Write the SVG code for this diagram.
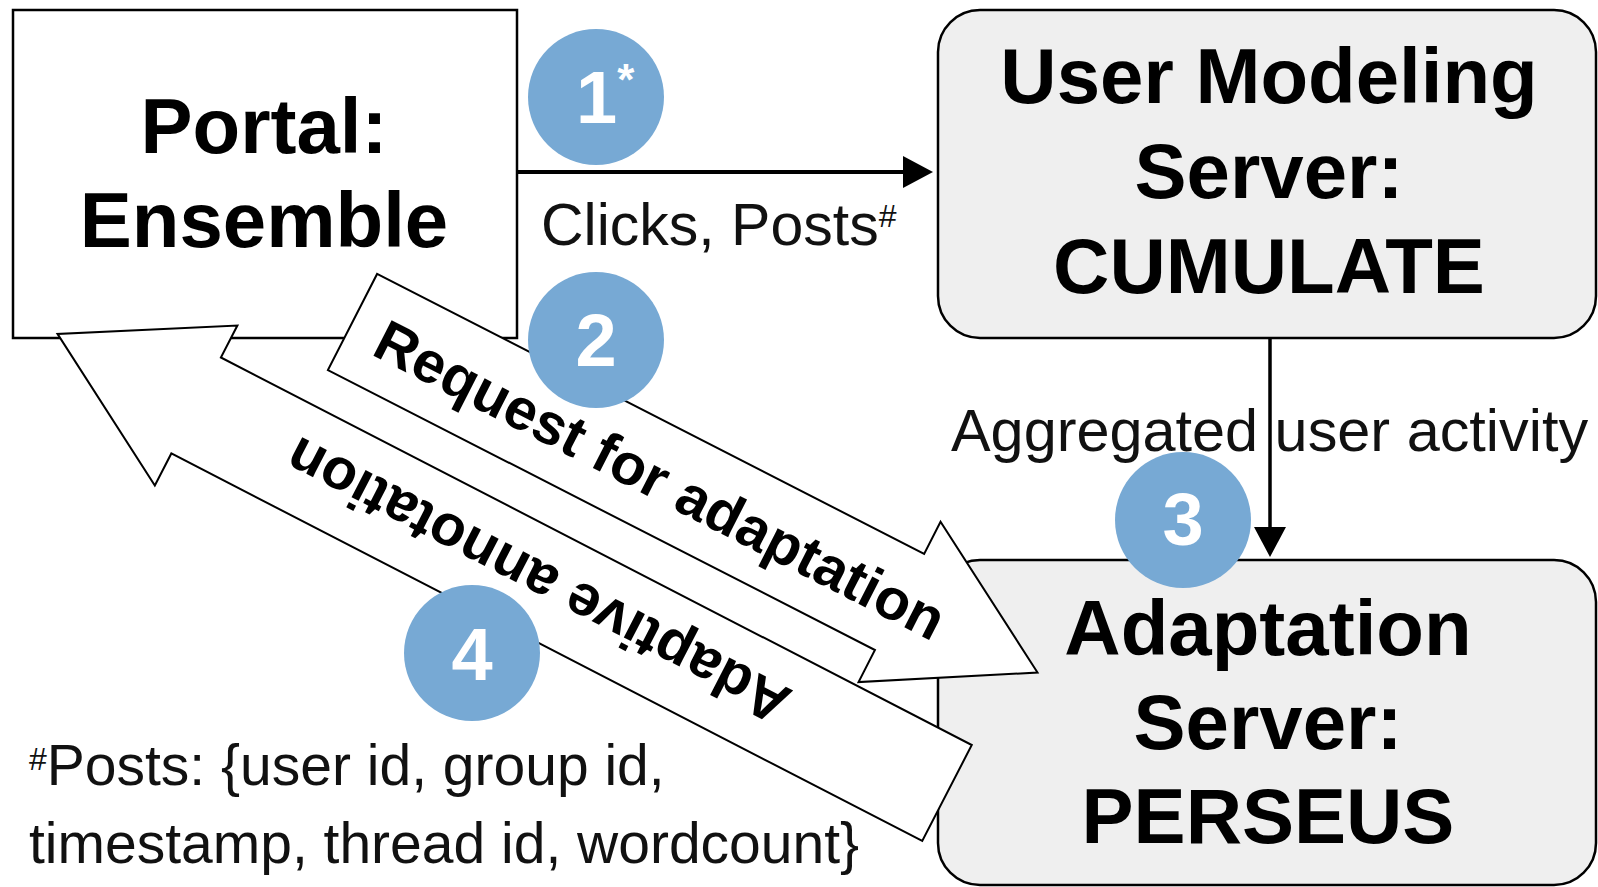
<svg xmlns="http://www.w3.org/2000/svg" width="1598" height="887" viewBox="0 0 1598 887">
<style>
text { font-family: "Liberation Sans", Arial, Helvetica, sans-serif; }
.node { stroke: #000; stroke-width: 2.5; }
.plain { fill: #fff; }
.gray { fill: #efefef; }
.title { font-size: 78px; font-weight: bold; text-anchor: middle; fill: #000; }
.lbl { font-size: 57px; fill: #111; }
.block { fill: #fff; stroke: #000; stroke-width: 2; stroke-linejoin: miter; }
.blabel { font-size: 58px; font-weight: bold; text-anchor: middle; dominant-baseline: central; fill: #000; }
.badge { fill: #77a9d4; }
.num { font-size: 74px; font-weight: bold; fill: #fff; }
.conn { stroke: #000; fill: none; }
</style>
<defs>
<marker id="ah" markerUnits="userSpaceOnUse" markerWidth="30" markerHeight="32" refX="12" refY="16" orient="auto">
<path d="M0,0 L30,16 L0,32 Z" fill="#000"/>
</marker>
</defs>

<g id="portal">
<rect class="node plain" x="13" y="10" width="504" height="328"/>
<text class="title" x="264" y="153">Portal:</text>
<text class="title" x="264" y="247">Ensemble</text>
</g>

<g id="cumulate">
<rect class="node gray" x="938" y="10" width="658" height="328" rx="42"/>
<text class="title" x="1269" y="103">User Modeling</text>
<text class="title" x="1269" y="198">Server:</text>
<text class="title" x="1269" y="293">CUMULATE</text>
</g>

<g id="perseus">
<rect class="node gray" x="938" y="560" width="658" height="325" rx="42"/>
<text class="title" x="1268" y="655">Adaptation</text>
<text class="title" x="1268" y="749">Server:</text>
<text class="title" x="1268" y="843">PERSEUS</text>
</g>

<g id="connectors">
<line class="conn" x1="517" y1="172" x2="915" y2="172" stroke-width="4" marker-end="url(#ah)"/>
<text class="lbl" x="541" y="245" style="font-size:59px">Clicks, Posts<tspan style="font-size:32px" dy="-18">#</tspan></text>

<line class="conn" x1="1270" y1="338" x2="1270" y2="539" stroke-width="3.5" marker-end="url(#ah)"/>
<text class="lbl" x="951" y="451" style="font-size:59.4px">Aggregated user activity</text>

<g id="request" transform="translate(352.5,322) rotate(27.1)">
<path class="block" d="M0,-54 L614.5,-54 L614.5,-90 L769.5,0 L614.5,90 L614.5,54 L0,54 Z"/>
<text class="blabel" x="346" y="0">Request for adaptation</text>
</g>

<g id="annotation" transform="translate(947,793) rotate(207.3)">
<path class="block" d="M0,-54 L845,-54 L845,-90 L1001,0 L845,90 L845,54 L0,54 Z"/>
<text class="blabel" x="461" y="0">Adaptive annotation</text>
</g>
</g>

<g id="badge-1">
<circle class="badge" cx="596" cy="97" r="68"/>
<text class="num" x="576" y="123">1<tspan style="font-size:44px" dy="-28">*</tspan></text>
</g>
<g id="badge-2">
<circle class="badge" cx="596" cy="340" r="68"/>
<text class="num" x="596" y="366" text-anchor="middle">2</text>
</g>
<g id="badge-3">
<circle class="badge" cx="1183" cy="520" r="68"/>
<text class="num" x="1183" y="545" text-anchor="middle">3</text>
</g>
<g id="badge-4">
<circle class="badge" cx="472" cy="653" r="68"/>
<text class="num" x="472" y="680" text-anchor="middle">4</text>
</g>

<g id="footnote">
<text class="lbl" x="29" y="785"><tspan style="font-size:32px" dy="-15">#</tspan><tspan dy="15">Posts: {user id, group id,</tspan></text>
<text class="lbl" x="29" y="863">timestamp, thread id, wordcount}</text>
</g>
</svg>
